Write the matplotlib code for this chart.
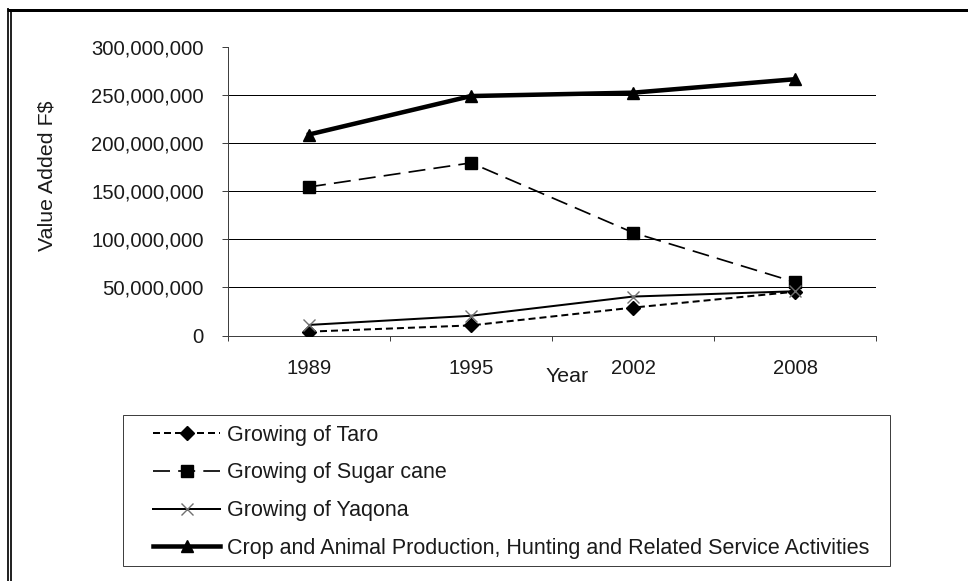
import matplotlib
matplotlib.use('Agg')
import matplotlib.pyplot as plt
from matplotlib.lines import Line2D
from matplotlib.patches import Rectangle
from matplotlib.ticker import FuncFormatter
import numpy as np

# ---- data ----
years = ['1989', '1995', '2002', '2008']
taro = [4.0e6, 10.5e6, 29.0e6, 45.5e6]
sugar = [154.5e6, 179.5e6, 107.0e6, 55.5e6]
yaqona = [11.0e6, 20.5e6, 40.5e6, 46.0e6]
crop = [209.0e6, 249.0e6, 252.5e6, 266.5e6]
series_labels = ['Growing of Taro', 'Growing of Sugar cane', 'Growing of Yaqona',
                 'Crop and Animal Production, Hunting and Related Service Activities']
y_ticks = [0, 50e6, 100e6, 150e6, 200e6, 250e6, 300e6]
y_label = 'Value Added F$'
x_label = 'Year'

# ---- layout helpers ----
W, H, DPI = 968, 581, 100
P = 72 / DPI  # px -> pt
plt.rcParams['font.family'] = ['Liberation Sans', 'DejaVu Sans']
FS = 14.6       # tick labels
FS_LEG = 15.5   # legend
FS_LAB = 15.4   # axis titles
FSPX_LEG = FS_LEG / P
TXT = '#1a1a1a'
AX = '#404040'

fig = plt.figure(figsize=(W / DPI, H / DPI), dpi=DPI)
fig.patch.set_facecolor('white')


def fx(px):
    return px / W


def fy(py):
    return 1 - py / H


ax = fig.add_axes([fx(228), fy(335.5), fx(876) - fx(228), fy(47) - fy(335.5)])
x = np.arange(len(years))

ax.plot(x, taro, color='black', lw=2 * P, dashes=(3.5, 2.0), marker='D', ms=7,
        mfc='black', mec='black', label=series_labels[0], zorder=3)
ax.plot(x, sugar, color='black', lw=1.7 * P, dashes=(10, 4.8), marker='s', ms=8,
        mfc='black', mec='black', label=series_labels[1], zorder=3)
ax.plot(x, yaqona, color='black', lw=2 * P, marker='x', ms=8, mew=1,
        mec='#707070', label=series_labels[2], zorder=3)
ax.plot(x, crop, color='black', lw=4.5 * P, marker='^', ms=9,
        mfc='black', mec='black', label=series_labels[3], zorder=3)

ax.set_xlim(-0.5, len(years) - 0.5)
ax.set_ylim(y_ticks[0], y_ticks[-1])
ax.set_yticks(y_ticks)
ax.yaxis.set_major_formatter(FuncFormatter(lambda v, p: f'{v:,.0f}'))
ax.yaxis.grid(True, color='black', lw=1 * P)
gl = ax.get_ygridlines()
gl[0].set_visible(False)
gl[-1].set_visible(False)
ax.set_axisbelow(True)

ax.set_xticks(x)
ax.set_xticklabels(years)
ax.set_xticks(np.arange(-0.5, len(years), 1.0), minor=True)
ax.tick_params(axis='x', which='major', length=0, pad=17, labelsize=FS, labelcolor=TXT)
ax.tick_params(axis='x', which='minor', direction='out', length=5 * P, width=1 * P, color=AX)
ax.tick_params(axis='y', direction='out', length=6 * P, width=1 * P, color=AX,
               pad=13, labelsize=FS, labelcolor=TXT)

for s in ['top', 'right']:
    ax.spines[s].set_visible(False)
for s in ['left', 'bottom']:
    ax.spines[s].set_color(AX)
    ax.spines[s].set_linewidth(1 * P)

fig.text(fx(47), fy(176), y_label, rotation=90, ha='center', va='center',
         fontsize=FS_LAB, color=TXT)
fig.text(fx(567), fy(377), x_label, ha='center', va='center', fontsize=FS_LAB, color=TXT)

# legend
handles, labels = ax.get_legend_handles_labels()
fig.legend(handles, labels, loc='upper left', bbox_to_anchor=(fx(153), fy(424.5)),
           frameon=False, borderpad=0, borderaxespad=0,
           handlelength=67 / FSPX_LEG, handletextpad=7 / FSPX_LEG, labelspacing=0.78,
           fontsize=FS_LEG, labelcolor=TXT)
fig.add_artist(Rectangle((fx(122.7), fy(566)), fx(890) - fx(122.7), fy(415) - fy(566),
                         transform=fig.transFigure, fill=False, ec=AX, lw=1 * P))

# outer frame (cropped)
fig.add_artist(Line2D([fx(7), 1.0], [fy(9.5), fy(9.5)], transform=fig.transFigure,
                      color='black', lw=3 * P, solid_capstyle='butt'))
fig.add_artist(Line2D([fx(8.2), fx(8.2)], [fy(8), 0], transform=fig.transFigure,
                      color='black', lw=1.7 * P, solid_capstyle='butt'))
fig.add_artist(Line2D([fx(11.2), fx(11.2)], [fy(11), 0], transform=fig.transFigure,
                      color='black', lw=1.7 * P, solid_capstyle='butt'))

fig.savefig('out.png', dpi=DPI)
